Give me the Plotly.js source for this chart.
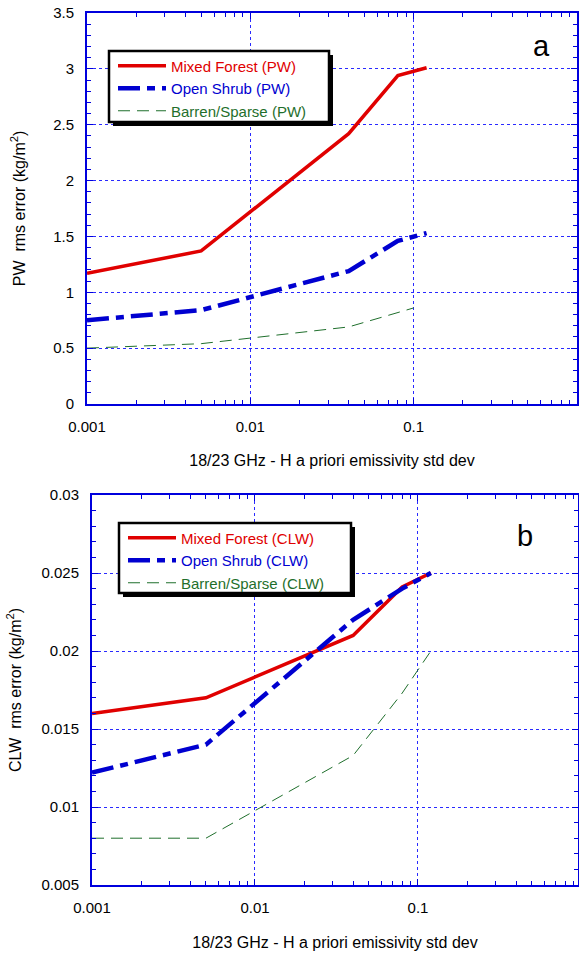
<!DOCTYPE html>
<html><head><meta charset="utf-8">
<script src="https://cdn.plot.ly/plotly-3.0.1.min.js"></script>
<style>html,body{margin:0;padding:0;background:#fff}</style>
</head><body><div id="chart" style="width:579px;height:953px"></div>
<script>
// ---- data ----
const xStd = [0.001, 0.005, 0.04, 0.08, 0.12];
const xStdBarrenPW = [0.001, 0.005, 0.04, 0.1];
const pwMixedForest = [1.17, 1.37, 2.42, 2.94, 3.01];
const pwOpenShrub = [0.75, 0.84, 1.19, 1.46, 1.53];
const pwBarren = [0.5, 0.54, 0.69, 0.86];
const clwMixedForest = [0.016, 0.017, 0.021, 0.0241, 0.025];
const clwOpenShrub = [0.0122, 0.014, 0.022, 0.024, 0.025];
const clwBarren = [0.008, 0.008, 0.0133, 0.0173, 0.020];
const namesPW = ['Mixed Forest (PW)', 'Open Shrub (PW)', 'Barren/Sparse (PW)'];
const namesCLW = ['Mixed Forest (CLW)', 'Open Shrub (CLW)', 'Barren/Sparse (CLW)'];
const xTitle = '18/23 GHz - H a priori emissivity std dev';
const yTitlePW = 'PW  rms error (kg/m<sup>2</sup>)';
const yTitleCLW = 'CLW  rms error (kg/m<sup>2</sup>)';
const panelLabels = ['a', 'b'];

const RED = '#e00000', BLUE = '#0000d0', GREEN = '#1f6f2c';
const FONT = 'Liberation Sans, Arial, sans-serif';
const W = 579, H = 953;
const px = v => v / W, py = v => 1 - v / H;

function label(name, color) { return '<span style="color:' + color + '">' + name + '</span>'; }

const styles = [
  {color: RED, width: 3.5, dash: 'solid'},
  {color: BLUE, width: 4.5, dash: '22px,7px,8px,7px'},
  {color: GREEN, width: 1, dash: '12px,7px'}
];
const colors = [RED, BLUE, GREEN];

const traces = [
  {x: xStd, y: pwMixedForest, name: label(namesPW[0], colors[0]), line: styles[0], xaxis: 'x', yaxis: 'y', legend: 'legend'},
  {x: xStd, y: pwOpenShrub, name: label(namesPW[1], colors[1]), line: styles[1], xaxis: 'x', yaxis: 'y', legend: 'legend'},
  {x: xStdBarrenPW, y: pwBarren, name: label(namesPW[2], colors[2]), line: styles[2], xaxis: 'x', yaxis: 'y', legend: 'legend'},
  {x: xStd, y: clwMixedForest, name: label(namesCLW[0], colors[0]), line: styles[0], xaxis: 'x2', yaxis: 'y2', legend: 'legend2'},
  {x: xStd, y: clwOpenShrub, name: label(namesCLW[1], colors[1]), line: styles[1], xaxis: 'x2', yaxis: 'y2', legend: 'legend2'},
  {x: xStd, y: clwBarren, name: label(namesCLW[2], colors[2]), line: styles[2], xaxis: 'x2', yaxis: 'y2', legend: 'legend2'}
].map(t => Object.assign({type: 'scatter', mode: 'lines', hoverinfo: 'skip'}, t));

const AX = '#0000dd';
function axis(extra) {
  return Object.assign({
    showline: true, linecolor: AX, linewidth: 2, mirror: 'allticks',
    ticks: 'inside', ticklen: 6, tickwidth: 1, tickcolor: AX,
    showgrid: true, gridcolor: '#2a2aff', griddash: 'dot', gridwidth: 1,
    zeroline: false, automargin: false,
    tickfont: {family: FONT, size: 15, color: '#000'}
  }, extra);
}
const titleFont = {family: FONT, size: 16, color: '#000'};

function legendBox(x0, y0, x1, y1) {
  return [
    {type: 'rect', xref: 'paper', yref: 'paper', x0: px(x0 + 4), x1: px(x1 + 4), y0: py(y1 + 4), y1: py(y0 + 4), fillcolor: '#000', line: {width: 0}, layer: 'above'},
    {type: 'rect', xref: 'paper', yref: 'paper', x0: px(x0), x1: px(x1), y0: py(y1), y1: py(y0), fillcolor: '#fff', line: {width: 2.5, color: '#000'}, layer: 'above'}
  ];
}

const legendCommon = {xanchor: 'left', yanchor: 'top', bgcolor: 'rgba(0,0,0,0)', borderwidth: 0,
  font: {family: FONT, size: 15}, itemwidth: 48, tracegroupgap: 0};

const layout = {
  width: W, height: H,
  margin: {l: 0, r: 0, t: 0, b: 0},
  paper_bgcolor: '#fff', plot_bgcolor: '#fff',
  showlegend: true,
  xaxis: axis({type: 'log', range: [-3, 0], dtick: 1, domain: [px(87), px(577)], anchor: 'y',
    minor: {dtick: 'D1', ticks: 'inside', ticklen: 4, tickcolor: AX, showgrid: false},
    title: {text: xTitle, font: titleFont, standoff: 21}, ticklabelstandoff: 8}),
  yaxis: axis({range: [0, 3.5], dtick: 0.5, domain: [py(404), py(13)], anchor: 'x',
    minor: {dtick: 0.1, ticks: 'inside', ticklen: 4, tickcolor: AX, showgrid: false},
    title: {text: yTitlePW, font: titleFont, standoff: 24}, ticklabelstandoff: 8}),
  xaxis2: axis({type: 'log', range: [-3, -0.018], dtick: 1, domain: [px(92), px(578)], anchor: 'y2',
    minor: {dtick: 'D1', ticks: 'inside', ticklen: 4, tickcolor: AX, showgrid: false},
    title: {text: xTitle, font: titleFont, standoff: 22}, ticklabelstandoff: 8}),
  yaxis2: axis({range: [0.005, 0.03], dtick: 0.005, domain: [py(885), py(495)], anchor: 'x2',
    minor: {dtick: 0.001, ticks: 'inside', ticklen: 4, tickcolor: AX, showgrid: false},
    title: {text: yTitleCLW, font: titleFont, standoff: 16}, ticklabelstandoff: 8}),
  legend: Object.assign({x: px(113), y: py(49.5)}, legendCommon),
  legend2: Object.assign({x: px(123), y: py(521.5)}, legendCommon),
  annotations: [
    {text: panelLabels[0], xref: 'paper', yref: 'paper', x: px(541), y: py(46), xanchor: 'center', yanchor: 'middle', showarrow: false, font: {family: FONT, size: 29, color: '#000'}},
    {text: panelLabels[1], xref: 'paper', yref: 'paper', x: px(525), y: py(536), xanchor: 'center', yanchor: 'middle', showarrow: false, font: {family: FONT, size: 29, color: '#000'}}
  ],
  shapes: [].concat(legendBox(109, 51, 329, 122), legendBox(119, 523, 351, 593))
};

Plotly.newPlot('chart', traces, layout, {staticPlot: true, displayModeBar: false});
</script></body></html>
